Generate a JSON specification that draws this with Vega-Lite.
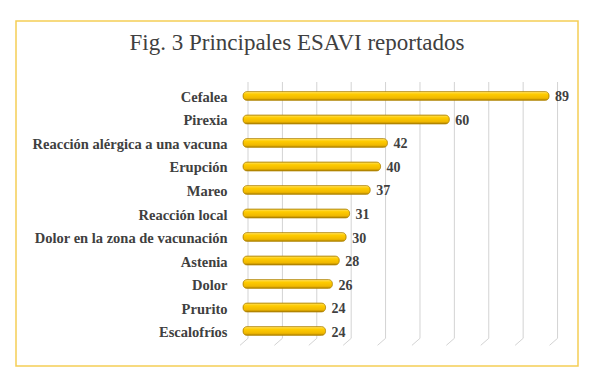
{
  "$schema": "https://vega.github.io/schema/vega-lite/v6.json",
  "width": 562,
  "height": 345,
  "autosize": {"type": "none"},
  "padding": {"left": 16, "top": 21, "right": 22, "bottom": 19},
  "background": "white",
  "config": {
    "view": {"stroke": "#F5CE55", "strokeWidth": 1.5},
    "font": "Liberation Serif"
  },
  "title": {
    "text": "Fig. 3 Principales ESAVI reportados",
    "fontSize": 23,
    "font": "Liberation Serif",
    "fontWeight": "normal",
    "color": "#404040",
    "anchor": "middle",
    "frame": "group",
    "baseline": "alphabetic",
    "offset": -52
  },
  "datasets": {
    "esavi": [
      {"sintoma": "Cefalea", "casos": 89},
      {"sintoma": "Pirexia", "casos": 60},
      {"sintoma": "Reacción alérgica a una vacuna", "casos": 42},
      {"sintoma": "Erupción", "casos": 40},
      {"sintoma": "Mareo", "casos": 37},
      {"sintoma": "Reacción local", "casos": 31},
      {"sintoma": "Dolor en la zona de vacunación", "casos": 30},
      {"sintoma": "Astenia", "casos": 28},
      {"sintoma": "Dolor", "casos": 26},
      {"sintoma": "Prurito", "casos": 24},
      {"sintoma": "Escalofríos", "casos": 24}
    ],
    "grid": [
      {"v": 0, "a": "Cefalea", "b": "Escalofríos"},
      {"v": 10, "a": "Cefalea", "b": "Escalofríos"},
      {"v": 20, "a": "Cefalea", "b": "Escalofríos"},
      {"v": 30, "a": "Cefalea", "b": "Escalofríos"},
      {"v": 40, "a": "Cefalea", "b": "Escalofríos"},
      {"v": 50, "a": "Cefalea", "b": "Escalofríos"},
      {"v": 60, "a": "Cefalea", "b": "Escalofríos"},
      {"v": 70, "a": "Cefalea", "b": "Escalofríos"},
      {"v": 80, "a": "Cefalea", "b": "Escalofríos"},
      {"v": 90, "a": "Cefalea", "b": "Escalofríos"}
    ]
  },
  "layer": [
    {
      "data": {"name": "grid"},
      "mark": {"type": "rule", "color": "#D3D3D3", "strokeWidth": 1, "xOffset": 5, "yOffset": -14, "y2Offset": 7.3},
      "encoding": {
        "x": {
          "field": "v",
          "type": "quantitative",
          "scale": {"domain": [-66, 97.4], "nice": false, "zero": false},
          "axis": null
        },
        "y": {
          "field": "a",
          "type": "nominal",
          "sort": null,
          "scale": {
            "domain": ["Cefalea", "Pirexia", "Reacción alérgica a una vacuna", "Erupción", "Mareo", "Reacción local", "Dolor en la zona de vacunación", "Astenia", "Dolor", "Prurito", "Escalofríos"],
            "range": [63, 322],
            "paddingInner": 0.62,
            "paddingOuter": 0.32
          },
          "axis": {
            "title": null,
            "ticks": false,
            "domain": false,
            "grid": false,
            "labelPadding": 0,
            "offset": -211,
            "labelOffset": 2,
            "labelFont": "Liberation Serif",
            "labelFontSize": 14.5,
            "labelFontWeight": "bold",
            "labelColor": "#404040",
            "labelLimit": 300
          }
        },
        "y2": {"field": "b"}
      }
    },
    {
      "data": {"name": "grid"},
      "mark": {"type": "rule", "color": "#D3D3D3", "strokeWidth": 1, "xOffset": 5, "x2Offset": -3, "yOffset": 7.3, "y2Offset": 14.3},
      "encoding": {
        "x": {"field": "v", "type": "quantitative"},
        "x2": {"field": "v"},
        "y": {"field": "b", "type": "nominal", "sort": null},
        "y2": {"field": "b"}
      }
    },
    {
      "data": {"name": "esavi"},
      "mark": {
        "type": "bar",
        "cornerRadius": 4,
        "stroke": "#B08400",
        "strokeWidth": 0.7,
        "color": {
          "gradient": "linear",
          "x1": 0, "y1": 0, "x2": 0, "y2": 1,
          "stops": [
            {"offset": 0, "color": "#FFE36A"},
            {"offset": 0.3, "color": "#FFCC00"},
            {"offset": 0.75, "color": "#F0B800"},
            {"offset": 1, "color": "#A87C00"}
          ]
        }
      },
      "encoding": {
        "x": {"field": "casos", "type": "quantitative"},
        "y": {"field": "sintoma", "type": "nominal", "sort": null}
      }
    },
    {
      "data": {"name": "esavi"},
      "mark": {
        "type": "text",
        "align": "left",
        "baseline": "middle",
        "dx": 6,
        "dy": 1.5,
        "font": "Liberation Serif",
        "fontSize": 14,
        "fontWeight": "bold",
        "color": "#404040"
      },
      "encoding": {
        "x": {"field": "casos", "type": "quantitative"},
        "y": {"field": "sintoma", "type": "nominal", "sort": null},
        "text": {"field": "casos", "type": "quantitative"}
      }
    }
  ]
}
